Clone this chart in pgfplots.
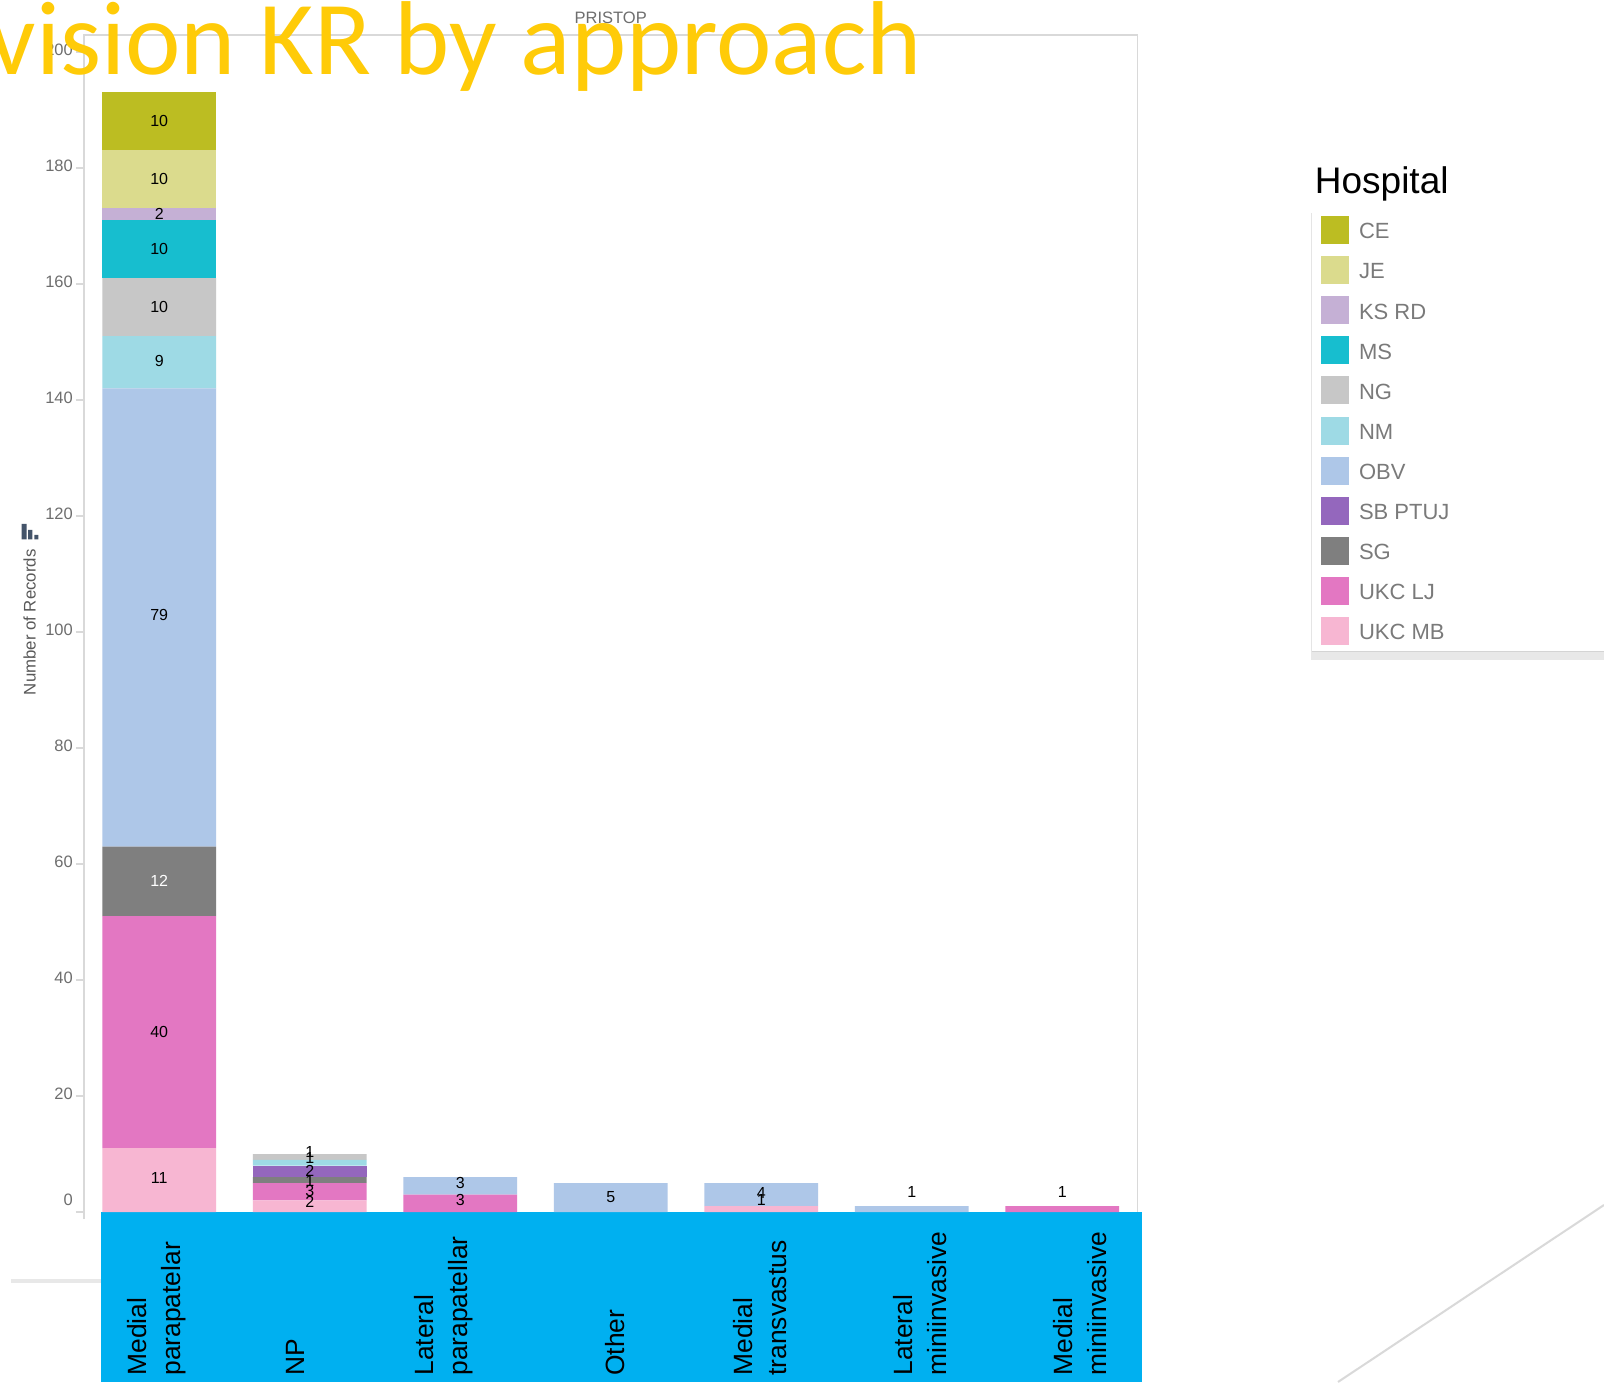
\documentclass[border=0pt]{standalone}
\usepackage{pgfplots}
\pgfplotsset{compat=1.18}
\usepackage{fontspec}
\setmainfont{Liberation Sans}
\newfontfamily\titlefont{Carlito}
\definecolor{cCE}{HTML}{BCBD22}
\definecolor{cJE}{HTML}{DBDB8D}
\definecolor{cKS}{HTML}{C5B0D5}
\definecolor{cMS}{HTML}{17BECF}
\definecolor{cNG}{HTML}{C7C7C7}
\definecolor{cNM}{HTML}{9EDAE5}
\definecolor{cOBV}{HTML}{AEC7E8}
\definecolor{cSB}{HTML}{9467BD}
\definecolor{cSG}{HTML}{7F7F7F}
\definecolor{cLJ}{HTML}{E377C2}
\definecolor{cMB}{HTML}{F7B6D2}
\definecolor{band}{HTML}{00B0F0}
\definecolor{spine}{HTML}{D9D9D9}
\definecolor{ticktext}{HTML}{6E6E6E}
\definecolor{headline}{HTML}{FFCB08}
\definecolor{iconc}{HTML}{44546A}
\newcommand{\lbl}[2]{\raisebox{#1pt}[0pt][0pt]{\begin{tabular}[c]{@{}l@{}}#2\end{tabular}}}
\pgfplotsset{
  swatch/.style={legend image code/.code={\fill[##1,draw=none] (0pt,-12pt) rectangle (28pt,16pt);}},
}
\begin{document}
\begin{tikzpicture}[x=1pt,y=1pt]
\useasboundingbox (0,0) rectangle (1604,1382);
% decorative slide elements behind the chart
\fill[white] (0,0) rectangle (1604,1382);
\fill[black!9] (11,99) rectangle (101,103);
\draw[spine,line width=2pt] (1338,0) -- (1604,177);
\fill[black!9] (1311,722) rectangle (1604,730);
\draw[black!17,line width=1pt] (1311,730) -- (1604,730);
\draw[black!10,line width=1.5pt] (1311.5,730) -- (1311.5,1169);
\fill[band] (101,0) rectangle (1142,170);
\begin{axis}[
  at={(84pt,163pt)}, anchor=south west,
  scale only axis, width=1053.5pt, height=1184pt,
  clip=false,
  xmin=-0.5, xmax=6.5, ymin=-1.2, ymax=202.9,
  ybar stacked, bar width=113.6pt,
  axis line style={draw=none},
  xtick={0,1,2,3,4,5,6},
  xtick style={draw=none},
  xticklabels={
    {\lbl{-3.6}{Medial\\parapatelar}},
    {\lbl{5.7}{NP}},
    {\lbl{10.4}{Lateral\\parapatellar}},
    {\lbl{-13.1}{Other}},
    {\lbl{-8.1}{Medial\\transvastus}},
    {\lbl{-17.1}{Lateral\\miniinvasive}},
    {\lbl{-27.1}{Medial\\miniinvasive}}},
  xticklabel style={yshift=-148.8pt,rotate=90,anchor=west,inner sep=0pt,
     font=\fontsize{26.4}{34}\selectfont,text=black},
  ytick pos=left,
  ytick={0,20,...,200},
  yticklabels={{\raisebox{21pt}{0}},20,40,60,80,100,120,140,160,180,200},
  ytick style={draw=spine,line width=1.5pt},
  tick align=outside, major tick length=8pt,
  yticklabel style={font=\fontsize{16.5}{18}\selectfont,text=ticktext,inner sep=0pt,xshift=-3pt,yshift=2pt},
  ylabel={Number of Records},
  every axis y label/.style={at={(axis description cs:-0.0517,0.504)},rotate=90,anchor=center,
     font=\fontsize{16.8}{18}\selectfont,text=black!65},
  title={PRISTOP},
  every axis title/.style={at={(axis description cs:0.5,1.0144)},anchor=center,
     font=\fontsize{16.5}{18}\selectfont,text=ticktext},
  visualization depends on={\thisrow{y}\as\rawy},
  visualization depends on={\thisrow{o}\as\off},
  nodes near coords={\pgfmathtruncatemacro\v{\rawy}\ifnum\v=0 \else\ifnum\v=12 \color{white}\fi\v\fi},
  every node near coord/.append style={anchor=center,inner sep=0pt,text=black,
     font=\fontsize{16}{18}\selectfont,yshift={\off*1pt}},
  reverse legend,
  legend cell align=left,
  legend style={at={(axis description cs:1.1742,0.8471)},anchor=north west,draw=none,fill=none,
     inner sep=0pt,outer sep=0pt,row sep=12.1pt,/tikz/column 1/.style={column sep=10pt},
     nodes={inner sep=0pt,text=black!52,font=\fontsize{22}{24}\selectfont}},
]
\addplot[fill=cMB,draw=none,swatch] table[row sep=\\]{x y o\\0 11 2\\1 2 4\\2 0 0\\3 0 0\\4 1 9\\5 0 0\\6 0 0\\};
\addlegendentry{UKC MB}
\addplot[fill=cLJ,draw=none,swatch] table[row sep=\\]{x y o\\0 40 0\\1 3 1\\2 3 3\\3 0 0\\4 0 0\\5 0 0\\6 1 17\\};
\addlegendentry{UKC LJ}
\addplot[fill=cSG,draw=none,swatch] table[row sep=\\]{x y o\\0 12 0\\1 1 -1\\2 0 0\\3 0 0\\4 0 0\\5 0 0\\6 0 0\\};
\addlegendentry{SG}
\addplot[fill=cSB,draw=none,swatch] table[row sep=\\]{x y o\\0 0 0\\1 2 1\\2 0 0\\3 0 0\\4 0 0\\5 0 0\\6 0 0\\};
\addlegendentry{SB PTUJ}
\addplot[fill=cOBV,draw=none,swatch] table[row sep=\\]{x y o\\0 79 2\\1 0 0\\2 3 2.5\\3 5 0\\4 4 2\\5 1 17\\6 0 0\\};
\addlegendentry{OBV}
\addplot[fill=cNM,draw=none,swatch] table[row sep=\\]{x y o\\0 9 1\\1 1 5\\2 0 0\\3 0 0\\4 0 0\\5 0 0\\6 0 0\\};
\addlegendentry{NM}
\addplot[fill=cNG,draw=none,swatch] table[row sep=\\]{x y o\\0 10 0\\1 1 5\\2 0 0\\3 0 0\\4 0 0\\5 0 0\\6 0 0\\};
\addlegendentry{NG}
\addplot[fill=cMS,draw=none,swatch] table[row sep=\\]{x y o\\0 10 0\\1 0 0\\2 0 0\\3 0 0\\4 0 0\\5 0 0\\6 0 0\\};
\addlegendentry{MS}
\addplot[fill=cKS,draw=none,swatch] table[row sep=\\]{x y o\\0 2 0\\1 0 0\\2 0 0\\3 0 0\\4 0 0\\5 0 0\\6 0 0\\};
\addlegendentry{KS RD}
\addplot[fill=cJE,draw=none,swatch] table[row sep=\\]{x y o\\0 10 0\\1 0 0\\2 0 0\\3 0 0\\4 0 0\\5 0 0\\6 0 0\\};
\addlegendentry{JE}
\addplot[fill=cCE,draw=none,swatch] table[row sep=\\]{x y o\\0 10 0\\1 0 0\\2 0 0\\3 0 0\\4 0 0\\5 0 0\\6 0 0\\};
\addlegendentry{CE}
\draw[spine,line width=1.5pt] (rel axis cs:0,0) -- (rel axis cs:0,1) -- (rel axis cs:1,1) -- (axis cs:6.5,0);
\end{axis}
\fill[iconc] (21.7,842.7) rectangle (26.7,858) (28,842.7) rectangle (32.3,852) (34.3,842.7) rectangle (38.3,847);
\node[anchor=base west,inner sep=0pt,font=\fontsize{37}{40}\selectfont,text=black] at (1314.7,1188) {Hospital};
\node[anchor=base east,inner sep=0pt,font=\fontsize{105}{110}\titlefont,text=headline] at (922,1307) {Revision KR by approach};
\end{tikzpicture}
\end{document}
